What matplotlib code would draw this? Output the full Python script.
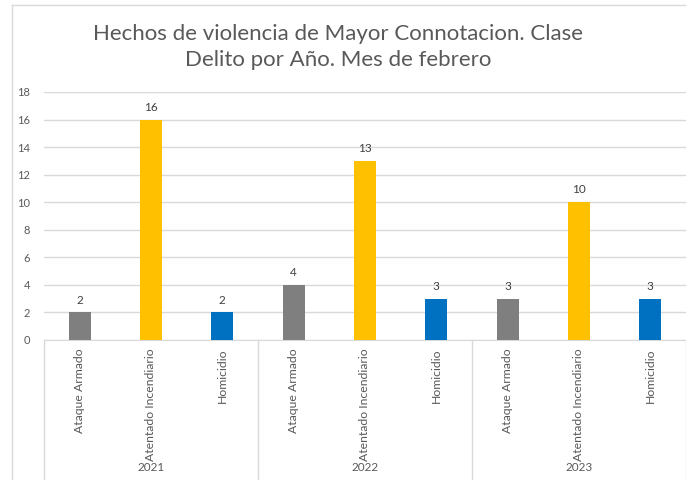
"""Hechos de violencia de mayor connotación - febrero, por año"""
import matplotlib
matplotlib.use("Agg")
import matplotlib.pyplot as plt
from matplotlib.lines import Line2D

years = ["2021", "2022", "2023"]
categories = ["Ataque Armado", "Atentado Incendiario", "Homicidio"]
ataque = [2, 4, 3]
atentado = [16, 13, 10]
homicidio = [2, 3, 3]
colors = ["#7F7F7F", "#FFC000", "#0070C0"]

plt.rcParams['font.family'] = ['Lato', 'DejaVu Sans']
txt = "#595959"

W, H = 686, 480
fig = plt.figure(figsize=(W / 100, H / 100), dpi=100)
ax = fig.add_axes([44 / W, 1 - 340 / H, 1 - 44 / W, 248 / H])

# posiciones: 3 categorías por año
series = [ataque, atentado, homicidio]
for ci, vals in enumerate(series):
    xs = [yi * 3 + ci for yi in range(len(years))]
    bars = ax.bar(xs, vals, width=0.31, color=colors[ci], zorder=3)
    ax.bar_label(bars, padding=5, fontsize=8.5, color="#404040")

ax.set_xlim(-0.5, 8.5)
ax.set_ylim(0, 18)
ax.set_yticks(range(0, 19, 2))
ax.tick_params(axis='y', length=0, labelsize=8, labelcolor=txt, pad=10)
ax.yaxis.grid(True, color="#D9D9D9", linewidth=1)
ax.set_axisbelow(True)

ax.set_xticks(range(9))
ax.set_xticklabels(categories * 3, rotation=90, va='top', fontsize=8.8, color=txt)
ax.tick_params(axis='x', length=0, pad=6)

for s in ['top', 'right', 'left']:
    ax.spines[s].set_visible(False)
ax.spines['bottom'].set_color("#D9D9D9")

# separadores y etiquetas de año
tr = ax.get_xaxis_transform()
for x in [-0.5, 2.5, 5.5, 8.5]:
    ax.add_line(Line2D([x, x], [0, -0.56], transform=tr, color="#D9D9D9",
                       linewidth=1, clip_on=False))
for yi, y in enumerate(years):
    ax.text(yi * 3 + 1, -0.515, y, transform=tr, ha='center', va='center',
            fontsize=8.5, color=txt)

fig.text(338 / W, 1 - 47 / H,
         "Hechos de violencia de Mayor Connotacion. Clase\nDelito por Año. Mes de febrero",
         ha='center', va='center', fontsize=16, color=txt, linespacing=1.35)

# borde del gráfico
fig.add_artist(Line2D([11.5 / W, 11.5 / W], [0, 1 - 5 / H], transform=fig.transFigure,
                      color="#D9D9D9", linewidth=1))
fig.add_artist(Line2D([11.5 / W, 1], [1 - 5 / H, 1 - 5 / H], transform=fig.transFigure,
                      color="#D9D9D9", linewidth=1))

fig.savefig("out.png", dpi=100)
